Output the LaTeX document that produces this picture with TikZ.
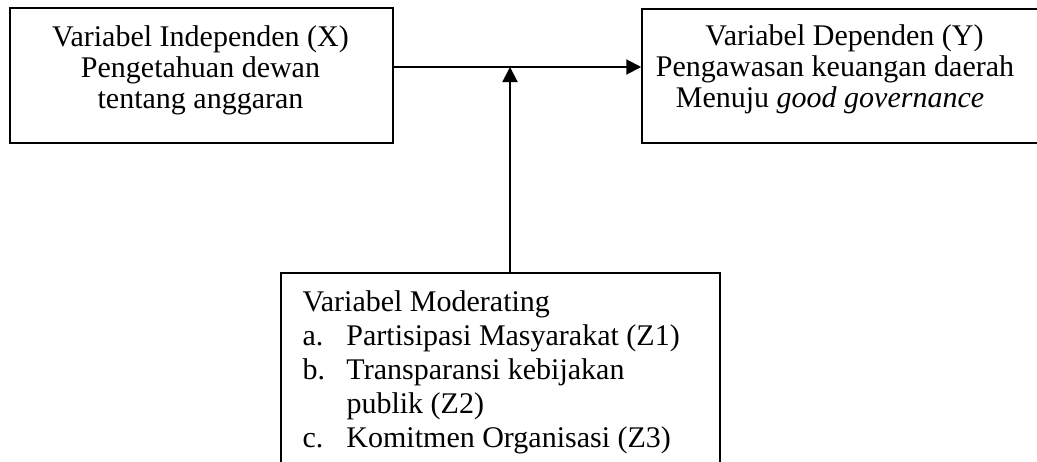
\documentclass[tikz,border=0pt]{standalone}
\usepackage{fontspec}
\setmainfont{Liberation Serif}
\usetikzlibrary{arrows.meta,positioning}

\tikzset{
  varbox/.style={draw, line width=0.6pt, inner sep=0pt},
  vartext/.style={inner sep=0pt, align=center},
  link/.style={line width=0.8pt, -{Triangle[length=6pt,width=6pt]}}
}

\begin{document}
\begin{tikzpicture}[x=0.4pt,y=-0.4pt,font=\fontsize{12}{12.4}\selectfont]
  \useasboundingbox (0,0) rectangle (1037,461);
  \clip (0,0) rectangle (1037,461);
  % boxes
  \node[varbox, minimum width=153.2pt, minimum height=54pt] (xbox) at (201.5,75.5) {};
  \node[varbox, minimum width=163.2pt, minimum height=53.6pt] (ybox) at (846,76) {};
  \node[varbox, minimum width=175.6pt, minimum height=82.8pt] (modbox) at (500.5,376.5) {};
  % texts
  \node[vartext] (xtext) at (200.5,70.5)
    {Variabel Independen (X)\\Pengetahuan dewan\\tentang anggaran};
  \node[vartext] (ytext) at (835,69.5)
    {\hspace*{7.6pt}Variabel Dependen (Y)\\Pengawasan keuangan daerah\\Menuju \textit{good governance}\hspace*{4pt}};
  \node[inner sep=0pt, anchor=north west, align=left, font=\fontsize{12}{13.6}\selectfont] (modtext) at (302,290)
    {Variabel Moderating\\
     \hbox to 17.6pt{a.\hfil}Partisipasi Masyarakat (Z1)\\
     \hbox to 17.6pt{b.\hfil}Transparansi kebijakan\\
     \hspace*{17.6pt}publik (Z2)\\
     \hbox to 17.6pt{c.\hfil}Komitmen Organisasi (Z3)};
  % arrows
  \coordinate (join) at (510,67);
  \draw[link] (xbox.east |- join) -- (ybox.west |- join);
  \draw[link] (modbox.north -| join) -- (join);
\end{tikzpicture}
\end{document}
